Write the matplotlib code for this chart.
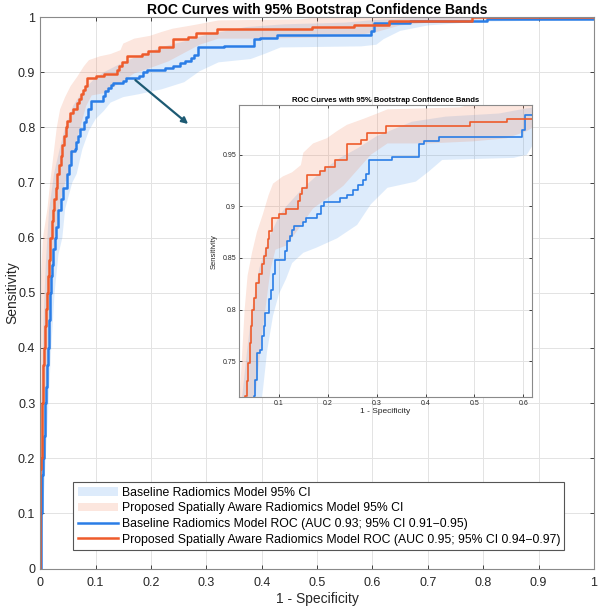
import matplotlib
matplotlib.use('Agg')
import matplotlib.pyplot as plt

plt.rcParams['font.family'] = ['Liberation Sans', 'DejaVu Sans']

# ROC curves: (fpr where tpr jumps, new tpr)
base_fpr = [0, 0.002, 0.003, 0.004, 0.005, 0.006, 0.008, 0.0095, 0.011, 0.013, 0.014, 0.016,
            0.017, 0.019, 0.021, 0.024, 0.026, 0.029, 0.033, 0.037, 0.042, 0.049, 0.052, 0.056,
            0.062, 0.065, 0.069, 0.072, 0.079, 0.083, 0.087, 0.092, 0.113, 0.117, 0.122, 0.127,
            0.131, 0.150, 0.155, 0.178, 0.186, 0.193, 0.225, 0.240, 0.252, 0.262, 0.272, 0.278,
            0.285, 0.331, 0.386, 0.397, 0.428, 0.597, 0.603, 0.667, 0.806, 1.0]
base_tpr = [0, 0.10, 0.15, 0.17, 0.20, 0.24, 0.27, 0.30, 0.33, 0.37, 0.40, 0.45,
            0.50, 0.53, 0.55, 0.58, 0.60, 0.62, 0.65, 0.67, 0.69, 0.716, 0.732, 0.758,
            0.761, 0.774, 0.784, 0.797, 0.810, 0.819, 0.834, 0.848, 0.857, 0.866, 0.871, 0.877,
            0.881, 0.885, 0.889, 0.893, 0.900, 0.904, 0.908, 0.911, 0.916, 0.921, 0.926, 0.931,
            0.945, 0.948, 0.960, 0.963, 0.967, 0.974, 0.989, 0.993, 0.997, 0.997]

prop_fpr = [0, 0, 0.002, 0.003, 0.004, 0.005, 0.007, 0.009, 0.011, 0.0125, 0.014, 0.016,
            0.018, 0.021, 0.023, 0.025, 0.028, 0.031, 0.034, 0.037, 0.040, 0.043, 0.046, 0.049,
            0.053, 0.060, 0.066, 0.070, 0.073, 0.077, 0.080, 0.085, 0.100, 0.115, 0.139, 0.143,
            0.148, 0.157, 0.184, 0.195, 0.215, 0.239, 0.267, 0.281, 0.319, 0.490, 0.566, 0.630,
            0.780, 1.0]
prop_tpr = [0, 0.18, 0.20, 0.26, 0.30, 0.37, 0.40, 0.44, 0.47, 0.50, 0.53, 0.56,
            0.60, 0.63, 0.65, 0.67, 0.69, 0.716, 0.731, 0.748, 0.768, 0.784, 0.800, 0.811,
            0.826, 0.834, 0.844, 0.852, 0.860, 0.868, 0.876, 0.889, 0.893, 0.897, 0.905, 0.912,
            0.918, 0.930, 0.934, 0.938, 0.945, 0.960, 0.964, 0.971, 0.978, 0.982, 0.985, 0.993,
            1.0, 1.0]

# bootstrap bands: upper and lower edges
base_hi_x = [0, 0.002, 0.006, 0.010, 0.016, 0.025, 0.035, 0.045, 0.060, 0.080, 0.100, 0.115,
             0.150, 0.190, 0.225, 0.260, 0.300, 0.372, 0.441, 0.550, 0.607, 0.700, 1.0]
base_hi_y = [0, 0.30, 0.45, 0.55, 0.65, 0.716, 0.76, 0.80, 0.84, 0.87, 0.89, 0.90,
             0.918, 0.935, 0.947, 0.956, 0.968, 0.982, 0.987, 0.990, 0.995, 1.0, 1.0]
base_lo_x = [0, 0.005, 0.010, 0.015, 0.020, 0.026, 0.033, 0.040, 0.045, 0.058, 0.066, 0.076,
             0.088, 0.100, 0.115, 0.127, 0.150, 0.177, 0.219, 0.260, 0.288, 0.322, 0.380, 0.407,
             0.434, 0.580, 0.607, 0.620, 0.650, 0.700, 0.800, 1.0]
base_lo_y = [0, 0.10, 0.20, 0.30, 0.40, 0.50, 0.57, 0.60, 0.652, 0.70, 0.716, 0.76,
             0.794, 0.815, 0.830, 0.845, 0.855, 0.860, 0.869, 0.882, 0.902, 0.918, 0.924, 0.934,
             0.945, 0.947, 0.950, 0.960, 0.975, 0.985, 0.992, 0.995]

prop_hi_x = [0, 0, 0.005, 0.013, 0.018, 0.024, 0.030, 0.036, 0.045, 0.055, 0.067, 0.079,
             0.088, 0.108, 0.127, 0.145, 0.150, 0.170, 0.198, 0.219, 0.239, 0.274, 0.301, 0.322,
             0.470, 0.500, 1.0]
prop_hi_y = [0, 0.50, 0.60, 0.652, 0.70, 0.75, 0.80, 0.833, 0.855, 0.875, 0.892, 0.911,
             0.922, 0.929, 0.933, 0.940, 0.952, 0.961, 0.966, 0.973, 0.979, 0.985, 0.990, 0.994,
             0.996, 1.0, 1.0]
prop_lo_x = [0, 0.006, 0.010, 0.015, 0.020, 0.027, 0.035, 0.045, 0.052, 0.066, 0.083, 0.093,
             0.115, 0.143, 0.170, 0.205, 0.232, 0.260, 0.288, 0.322, 0.407, 0.497, 0.566, 0.607,
             0.650, 0.700, 0.800, 1.0]
prop_lo_y = [0, 0.20, 0.30, 0.40, 0.50, 0.60, 0.66, 0.70, 0.716, 0.777, 0.839, 0.858,
             0.862, 0.880, 0.898, 0.910, 0.920, 0.935, 0.950, 0.961, 0.961, 0.963, 0.966, 0.973,
             0.985, 0.990, 0.996, 1.0]

labels = ['Baseline Radiomics Model 95% CI',
          'Proposed Spatially Aware Radiomics Model 95% CI',
          'Baseline Radiomics Model ROC (AUC 0.93; 95% CI 0.91\u22120.95)',
          'Proposed Spatially Aware Radiomics Model ROC (AUC 0.95; 95% CI 0.94\u22120.97)']
title = 'ROC Curves with 95% Bootstrap Confidence Bands'

blue = '#2a7de6'
orange = '#ee5b2b'
blue_band = '#3a8ce8'
orange_band = '#f0825a'
spine_col = '#8a8a8a'
text_col = '#262626'


def draw(ax, lw):
    ax.fill(base_hi_x + base_lo_x[::-1], base_hi_y + base_lo_y[::-1],
            color=blue_band, alpha=0.17, lw=0, label=labels[0])
    ax.fill(prop_hi_x + prop_lo_x[::-1], prop_hi_y + prop_lo_y[::-1],
            color=orange_band, alpha=0.2, lw=0, label=labels[1])
    ax.plot(base_fpr, base_tpr, drawstyle='steps-post', color=blue, lw=lw, label=labels[2])
    ax.plot(prop_fpr, prop_tpr, drawstyle='steps-post', color=orange, lw=lw, label=labels[3])


def style(ax, size):
    ax.grid(True, color='#e3e3e3', lw=0.7)
    ax.set_axisbelow(True)
    ax.tick_params(direction='in', top=True, right=True, labelsize=size,
                   colors=text_col, length=3, width=0.6)
    for s in ax.spines.values():
        s.set_color(spine_col)
        s.set_linewidth(0.8)


fig = plt.figure(figsize=(6, 6.12), dpi=100)
ax = fig.add_axes([0.067, 0.071, 0.923, 0.901])
draw(ax, 1.8)
style(ax, 9)
ax.set_xlim(0, 1)
ax.set_ylim(0, 1)
ticks = [i / 10 for i in range(11)]
tick_txt = ['0', '0.1', '0.2', '0.3', '0.4', '0.5', '0.6', '0.7', '0.8', '0.9', '1']
ax.set_xticks(ticks)
ax.set_xticklabels(tick_txt)
ax.set_yticks(ticks)
ax.set_yticklabels(tick_txt)
ax.tick_params(axis='x', pad=6)
ax.set_xlabel('1 - Specificity', fontsize=10, color=text_col, labelpad=2)
ax.set_ylabel('Sensitivity', fontsize=10, color=text_col)
ax.yaxis.set_label_coords(-0.038, 0.5)
ax.set_title(title, fontsize=10, fontweight='bold', pad=2)

leg = ax.legend(loc='lower left', bbox_to_anchor=(0.06, 0.034), borderaxespad=0,
                fontsize=8.8, fancybox=False, edgecolor='#555555', framealpha=1,
                handlelength=3.3, handletextpad=0.3, labelspacing=0.3,
                borderpad=0.35)
leg.get_frame().set_linewidth(0.8)

ax.annotate('', xy=(0.271, 0.803), xytext=(0.168, 0.889),
            arrowprops=dict(arrowstyle='-|>', color='#1d5a73', lw=1.6,
                            mutation_scale=9))

# zoomed inset
ins = fig.add_axes([0.398, 0.351, 0.489, 0.477])
ins.set_facecolor('white')
draw(ins, 1.2)
style(ins, 5)
ins.set_xlim(0.018, 0.618)
ins.set_ylim(0.715, 0.998)
ins.set_xticks([0.1, 0.2, 0.3, 0.4, 0.5, 0.6])
ins.set_xticklabels(['0.1', '0.2', '0.3', '0.4', '0.5', '0.6'])
ins.set_yticks([0.75, 0.8, 0.85, 0.9, 0.95])
ins.set_yticklabels(['0.75', '0.8', '0.85', '0.9', '0.95'])
ins.tick_params(length=2.5, pad=2)
ins.set_xlabel('1 - Specificity', fontsize=6, color=text_col, labelpad=1)
ins.set_ylabel('Sensitivity', fontsize=5.5, color=text_col, labelpad=3)
ins.set_title(title, fontsize=5.5, fontweight='bold', pad=2)

fig.savefig('out.png', dpi=100)
